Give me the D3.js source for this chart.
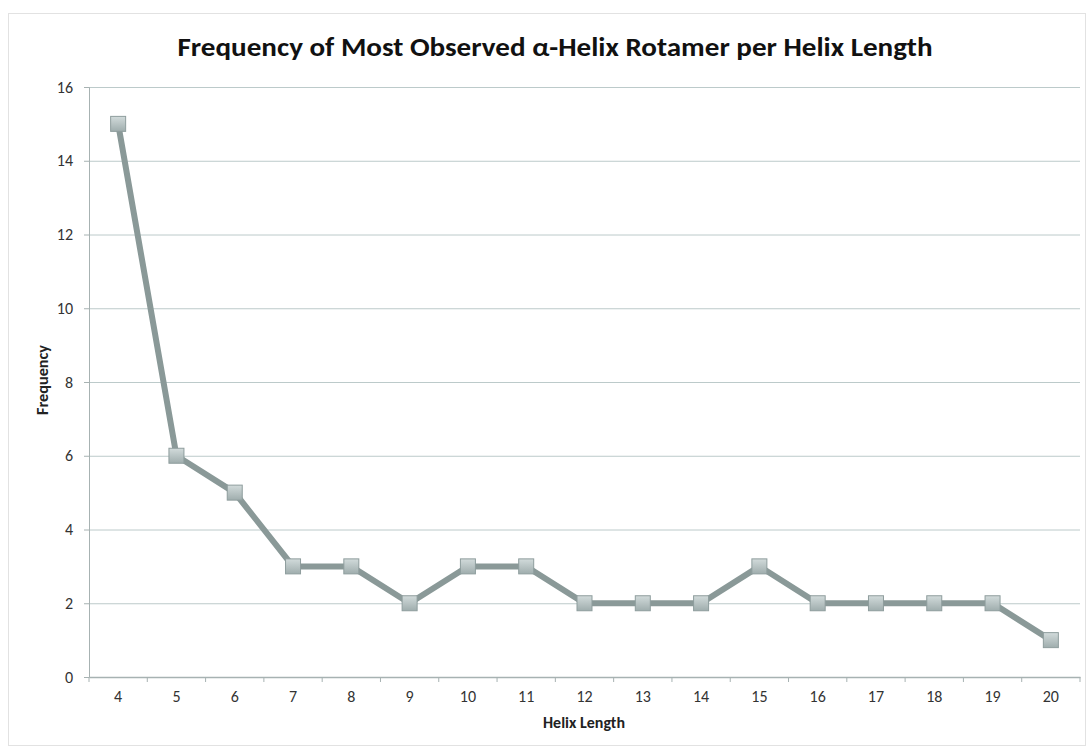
<!DOCTYPE html>
<html>
<head>
<meta charset="utf-8">
<script src="https://cdn.jsdelivr.net/npm/d3@7"></script>
<style>
  body { margin: 0; background: #fff; }
  text { font-family: Carlito, "Open Sans", "Liberation Sans", sans-serif; }
</style>
</head>
<body>
<svg id="chart"></svg>
<script>
const helixLengths = ["4", "5", "6", "7", "8", "9", "10", "11", "12", "13", "14", "15", "16", "17", "18", "19", "20"];
const frequencies = [15, 6, 5, 3, 3, 2, 3, 3, 2, 2, 2, 3, 2, 2, 2, 2, 1];
const yTicks = [0, 2, 4, 6, 8, 10, 12, 14, 16];

const size = {width: 1091, height: 749};
const margin = {top: 87, right: 11, bottom: 72, left: 89};
const w = size.width - margin.left - margin.right;
const h = size.height - margin.top - margin.bottom;

const svg = d3.select("#chart")
    .attr("width", size.width)
    .attr("height", size.height);

// outer frame
svg.append("rect")
    .attr("x", 8.5).attr("y", 13.5)
    .attr("width", size.width - 14).attr("height", size.height - 17)
    .attr("fill", "none")
    .attr("stroke", "#e2e2e2");

const defs = svg.append("defs");
const grad = defs.append("linearGradient")
    .attr("id", "mk").attr("x1", 0).attr("y1", 0).attr("x2", 0).attr("y2", 1);
grad.append("stop").attr("offset", "0%").attr("stop-color", "#d2dbdb");
grad.append("stop").attr("offset", "100%").attr("stop-color", "#9fadad");

const g = svg.append("g")
    .attr("transform", "translate(" + margin.left + "," + margin.top + ")");

const x = d3.scaleBand().domain(helixLengths).range([0, w]);
const y = d3.scaleLinear().domain([0, 16]).range([h, 0]);

// gridlines
g.append("g")
    .selectAll("line")
    .data(yTicks.filter(d => d > 0))
    .enter().append("line")
    .attr("x1", 0).attr("x2", w)
    .attr("y1", d => y(d) + 0.5).attr("y2", d => y(d) + 0.5)
    .attr("stroke", "#bccaca")
    .attr("stroke-width", 1);

// y axis
const yAxis = g.append("g")
    .call(d3.axisLeft(y).tickValues(yTicks).tickSize(5).tickPadding(11));
yAxis.select(".domain").attr("stroke", "#a7b2b2");
yAxis.selectAll(".tick line").attr("stroke", "#a7b2b2");
yAxis.selectAll(".tick text")
    .attr("font-size", 16).attr("fill", "#333")
    .style("font-family", "Carlito, 'Open Sans', sans-serif");

// x axis with ticks at band boundaries
const xAxis = g.append("g")
    .attr("transform", "translate(0," + h + ")")
    .call(d3.axisBottom(x).tickSize(0).tickPadding(14));
xAxis.select(".domain").attr("stroke", "#a7b2b2").attr("stroke-width", 1.5);
xAxis.selectAll(".tick text")
    .attr("font-size", 16).attr("fill", "#333")
    .style("font-family", "Carlito, 'Open Sans', sans-serif");
xAxis.append("g")
    .selectAll("line")
    .data(helixLengths.concat(["end"]))
    .enter().append("line")
    .attr("x1", (d, i) => i * x.step())
    .attr("x2", (d, i) => i * x.step())
    .attr("y1", 0).attr("y2", 5)
    .attr("stroke", "#a7b2b2");

// line
const line = d3.line()
    .x((d, i) => x(helixLengths[i]) + x.bandwidth() / 2)
    .y(d => y(d));

g.append("path")
    .datum(frequencies)
    .attr("d", line)
    .attr("fill", "none")
    .attr("stroke", "#8a9998")
    .attr("stroke-width", 6)
    .attr("stroke-linejoin", "miter");

// markers
const ms = 15;
g.append("g")
    .selectAll("rect")
    .data(frequencies)
    .enter().append("rect")
    .attr("x", (d, i) => x(helixLengths[i]) + x.bandwidth() / 2 - ms / 2)
    .attr("y", d => y(d) - ms / 2)
    .attr("width", ms).attr("height", ms)
    .attr("fill", "url(#mk)")
    .attr("stroke", "#8e9d9d")
    .attr("stroke-width", 1);

// axis titles
svg.append("text")
    .attr("x", 584)
    .attr("y", 728)
    .attr("text-anchor", "middle")
    .attr("font-size", 15)
    .attr("font-weight", "bold")
    .attr("fill", "#222")
    .attr("textLength", 82)
    .attr("lengthAdjust", "spacingAndGlyphs")
    .text("Helix Length");

svg.append("text")
    .attr("transform", "translate(48,380) rotate(-90)")
    .attr("text-anchor", "middle")
    .attr("font-size", 15)
    .attr("font-weight", "bold")
    .attr("fill", "#222")
    .attr("textLength", 70)
    .attr("lengthAdjust", "spacingAndGlyphs")
    .text("Frequency");

// title
svg.append("text")
    .attr("x", 555)
    .attr("y", 56)
    .attr("text-anchor", "middle")
    .attr("font-size", 27)
    .attr("font-weight", "bold")
    .attr("fill", "#111")
    .attr("textLength", 755)
    .attr("lengthAdjust", "spacingAndGlyphs")
    .text("Frequency of Most Observed α-Helix Rotamer per Helix Length");
</script>
</body>
</html>
